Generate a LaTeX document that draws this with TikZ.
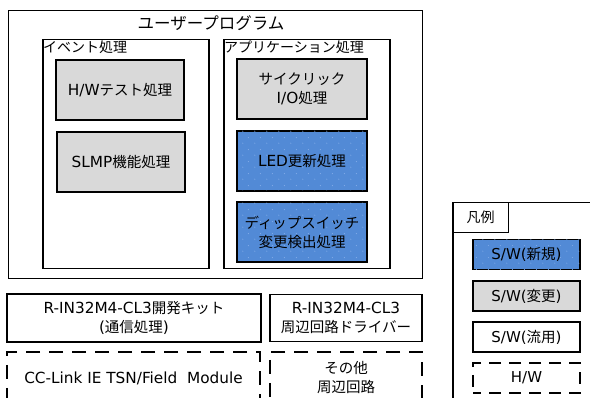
\documentclass[tikz,border=0pt]{standalone}
\usepackage{fontspec}
\setmainfont{DejaVu Sans}
\newfontfamily\jp{Noto Sans CJK JP}
\newcommand\jtxt[1]{{\jp\fontsize{14.5}{19}\selectfont #1}}
\usetikzlibrary{patterns.meta}
\definecolor{swgray}{RGB}{217,217,217}
\definecolor{swblue}{RGB}{82,138,214}
\definecolor{dotblue}{RGB}{130,172,232}
\tikzdeclarepattern{
  name=sparsedots,
  type=uncolored,
  bottom left={(0pt,0pt)},
  top right={(12pt,12pt)},
  tile size={(12pt,12pt)},
  code={
    \fill (3pt,3pt) circle (0.6pt);
    \fill (9pt,9pt) circle (0.6pt);
  }
}
\tikzset{
  outerbox/.style={draw, line width=1.4pt, anchor=north west, inner sep=0},
  groupbox/.style={draw, line width=1.5pt, anchor=north west, inner sep=0},
  swbox/.style={draw, line width=1.6pt, align=center, inner sep=0,
                font=\fontsize{15.3}{19}\selectfont},
  graybox/.style={swbox, fill=swgray},
  bluebox/.style={swbox, fill=swblue,
                  postaction={pattern=sparsedots, pattern color=dotblue}},
  whitebox/.style={swbox, fill=white},
  hwbox/.style={draw, line width=1.6pt, dash pattern=on 14pt off 9pt, dash phase=4pt,
                align=center, inner sep=0, font=\fontsize{15.3}{19}\selectfont},
  grouplabel/.style={anchor=west, inner sep=0, font=\fontsize{14}{16}\selectfont\jp},
  legbox/.style={swbox, minimum width=107, minimum height=30,
                 font=\fontsize{15}{18}\selectfont},
}
\begin{document}
\begin{tikzpicture}[x=1pt, y=-1pt]
\clip (0,0) rectangle (590,398);
\fill[white] (0,0) rectangle (590,398);

% user program
\node[outerbox, minimum width=414, minimum height=268] (user) at (8,10) {};
\node[inner sep=0, font=\fontsize{16.5}{20}\selectfont\jp] (usertitle) at (211,23) {ユーザープログラム};

% event group
\node[groupbox, minimum width=166, minimum height=229] (event) at (42,39) {};
\node[grouplabel] (eventlbl) at (43,47) {イベント処理};
\node[graybox, minimum width=128, minimum height=60] (hw) at (120,90) {H/W\jtxt{テスト処理}};
\node[graybox, minimum width=128, minimum height=60] (slmp) at (121,162) {SLMP\jtxt{機能処理}};

% application group
\node[groupbox, minimum width=166, minimum height=229] (app) at (223,39) {};
\node[grouplabel] (applbl) at (224,47) {アプリケーション処理};
\node[graybox, minimum width=130, minimum height=60] (cyclic) at (302,89) {\jtxt{サイクリック}\\I/O\jtxt{処理}};
\node[bluebox, minimum width=130, minimum height=60] (led) at (302,161) {LED\jtxt{更新処理}};
\node[bluebox, minimum width=130, minimum height=60] (dip) at (302,232) {\jtxt{ディップスイッチ}\\\jtxt{変更検出処理}};

% lower layers
\node[whitebox, minimum width=254, minimum height=48] (kit) at (134,318) {R-IN32M4-CL3\jtxt{開発キット}\\(\jtxt{通信処理})};
\node[whitebox, minimum width=152, minimum height=47] (drv) at (346,318) {R-IN32M4-CL3\\\jtxt{周辺回路ドライバー}};
\node[hwbox, minimum width=253, minimum height=52] (cclink) at (133.5,378) {CC-Link IE TSN/Field\ \ Module};
\node[hwbox, minimum width=152, minimum height=52] (other) at (346,378) {\jtxt{その他}\\\jtxt{周辺回路}};

% legend
\node[groupbox, minimum width=150, minimum height=210] (legend) at (452,202) {};
\node[draw, line width=1.4pt, minimum width=56, minimum height=30, anchor=north west,
      inner sep=0, font=\fontsize{14}{16}\selectfont\jp] (leglbl) at (452,202) {凡例};
\node[legbox, fill=swblue, postaction={pattern=sparsedots, pattern color=dotblue}] (legnew) at (526.5,254.5) {S/W(\jtxt{新規})};
\node[legbox, fill=swgray] (legchg) at (526.5,296) {S/W(\jtxt{変更})};
\node[legbox, fill=white] (legreuse) at (526.5,337) {S/W(\jtxt{流用})};
\node[hwbox, dash pattern=on 12pt off 8pt, dash phase=4pt, minimum width=107, minimum height=30, font=\fontsize{15}{18}\selectfont] (leghw) at (526.5,378) {H/W};
\end{tikzpicture}
\end{document}
